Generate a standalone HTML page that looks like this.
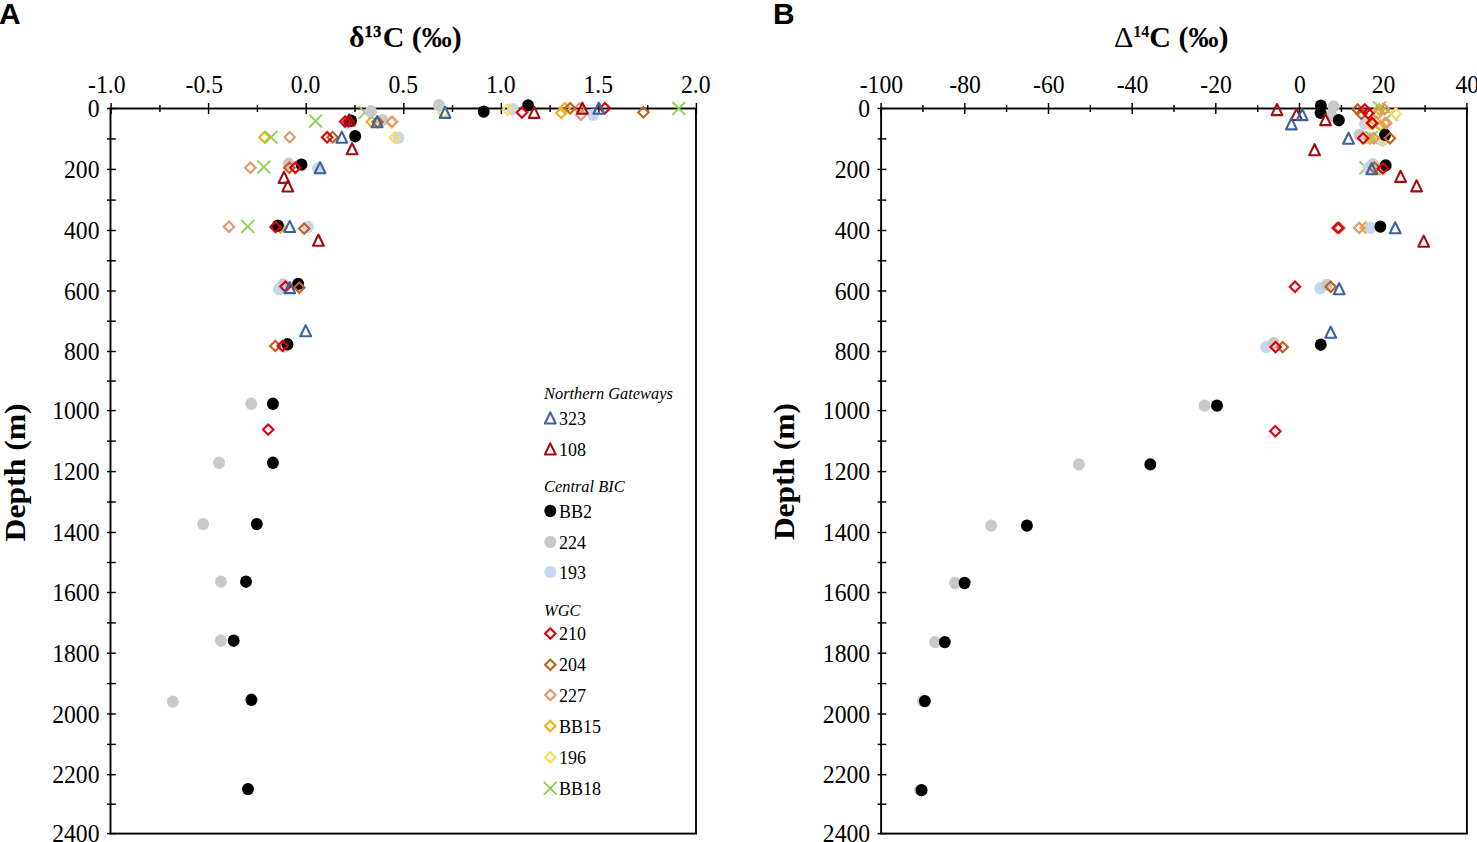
<!DOCTYPE html><html><head><meta charset="utf-8"><style>html,body{margin:0;padding:0;background:#fff;}svg{display:block}</style></head><body>
<svg width="1477" height="842" viewBox="0 0 1477 842">
<rect width="100%" height="100%" fill="#fff"/>
<rect x="110.5" y="108.5" width="585.5" height="725.1" fill="none" stroke="#000" stroke-width="1.9"/>
<line x1="111.1" y1="103.0" x2="111.1" y2="114.0" stroke="#000" stroke-width="1.45"/>
<line x1="208.6" y1="103.0" x2="208.6" y2="114.0" stroke="#000" stroke-width="1.45"/>
<line x1="306.2" y1="103.0" x2="306.2" y2="114.0" stroke="#000" stroke-width="1.45"/>
<line x1="403.8" y1="103.0" x2="403.8" y2="114.0" stroke="#000" stroke-width="1.45"/>
<line x1="501.3" y1="103.0" x2="501.3" y2="114.0" stroke="#000" stroke-width="1.45"/>
<line x1="598.9" y1="103.0" x2="598.9" y2="114.0" stroke="#000" stroke-width="1.45"/>
<line x1="696.4" y1="103.0" x2="696.4" y2="114.0" stroke="#000" stroke-width="1.45"/>
<line x1="159.9" y1="105.0" x2="159.9" y2="112.0" stroke="#000" stroke-width="1.45"/>
<line x1="257.4" y1="105.0" x2="257.4" y2="112.0" stroke="#000" stroke-width="1.45"/>
<line x1="355.0" y1="105.0" x2="355.0" y2="112.0" stroke="#000" stroke-width="1.45"/>
<line x1="452.5" y1="105.0" x2="452.5" y2="112.0" stroke="#000" stroke-width="1.45"/>
<line x1="550.1" y1="105.0" x2="550.1" y2="112.0" stroke="#000" stroke-width="1.45"/>
<line x1="647.7" y1="105.0" x2="647.7" y2="112.0" stroke="#000" stroke-width="1.45"/>
<line x1="107.0" y1="108.5" x2="115.8" y2="108.5" stroke="#000" stroke-width="1.45"/>
<line x1="107.0" y1="138.9" x2="115.8" y2="138.9" stroke="#000" stroke-width="1.45"/>
<line x1="107.0" y1="169.4" x2="115.8" y2="169.4" stroke="#000" stroke-width="1.45"/>
<line x1="107.0" y1="200.1" x2="115.8" y2="200.1" stroke="#000" stroke-width="1.45"/>
<line x1="107.0" y1="230.5" x2="115.8" y2="230.5" stroke="#000" stroke-width="1.45"/>
<line x1="107.0" y1="260.8" x2="115.8" y2="260.8" stroke="#000" stroke-width="1.45"/>
<line x1="107.0" y1="291.0" x2="115.8" y2="291.0" stroke="#000" stroke-width="1.45"/>
<line x1="107.0" y1="321.2" x2="115.8" y2="321.2" stroke="#000" stroke-width="1.45"/>
<line x1="107.0" y1="351.5" x2="115.8" y2="351.5" stroke="#000" stroke-width="1.45"/>
<line x1="107.0" y1="381.1" x2="115.8" y2="381.1" stroke="#000" stroke-width="1.45"/>
<line x1="107.0" y1="410.6" x2="115.8" y2="410.6" stroke="#000" stroke-width="1.45"/>
<line x1="107.0" y1="441.1" x2="115.8" y2="441.1" stroke="#000" stroke-width="1.45"/>
<line x1="107.0" y1="471.6" x2="115.8" y2="471.6" stroke="#000" stroke-width="1.45"/>
<line x1="107.0" y1="502.0" x2="115.8" y2="502.0" stroke="#000" stroke-width="1.45"/>
<line x1="107.0" y1="532.5" x2="115.8" y2="532.5" stroke="#000" stroke-width="1.45"/>
<line x1="107.0" y1="562.5" x2="115.8" y2="562.5" stroke="#000" stroke-width="1.45"/>
<line x1="107.0" y1="592.5" x2="115.8" y2="592.5" stroke="#000" stroke-width="1.45"/>
<line x1="107.0" y1="622.9" x2="115.8" y2="622.9" stroke="#000" stroke-width="1.45"/>
<line x1="107.0" y1="653.2" x2="115.8" y2="653.2" stroke="#000" stroke-width="1.45"/>
<line x1="107.0" y1="683.6" x2="115.8" y2="683.6" stroke="#000" stroke-width="1.45"/>
<line x1="107.0" y1="714.0" x2="115.8" y2="714.0" stroke="#000" stroke-width="1.45"/>
<line x1="107.0" y1="744.4" x2="115.8" y2="744.4" stroke="#000" stroke-width="1.45"/>
<line x1="107.0" y1="774.7" x2="115.8" y2="774.7" stroke="#000" stroke-width="1.45"/>
<line x1="107.0" y1="804.2" x2="115.8" y2="804.2" stroke="#000" stroke-width="1.45"/>
<line x1="107.0" y1="833.6" x2="115.8" y2="833.6" stroke="#000" stroke-width="1.45"/>
<text transform="translate(106.8,93) scale(0.91,1)" font-family="Liberation Serif" font-size="26" text-anchor="middle">-1.0</text>
<text transform="translate(204.3,93) scale(0.91,1)" font-family="Liberation Serif" font-size="26" text-anchor="middle">-0.5</text>
<text transform="translate(305.6,93) scale(0.91,1)" font-family="Liberation Serif" font-size="26" text-anchor="middle">0.0</text>
<text transform="translate(403.2,93) scale(0.91,1)" font-family="Liberation Serif" font-size="26" text-anchor="middle">0.5</text>
<text transform="translate(500.7,93) scale(0.91,1)" font-family="Liberation Serif" font-size="26" text-anchor="middle">1.0</text>
<text transform="translate(598.3,93) scale(0.91,1)" font-family="Liberation Serif" font-size="26" text-anchor="middle">1.5</text>
<text transform="translate(695.8,93) scale(0.91,1)" font-family="Liberation Serif" font-size="26" text-anchor="middle">2.0</text>
<text transform="translate(99.5,117.1) scale(0.91,1)" font-family="Liberation Serif" font-size="26" text-anchor="end">0</text>
<text transform="translate(99.5,178.0) scale(0.91,1)" font-family="Liberation Serif" font-size="26" text-anchor="end">200</text>
<text transform="translate(99.5,239.1) scale(0.91,1)" font-family="Liberation Serif" font-size="26" text-anchor="end">400</text>
<text transform="translate(99.5,299.6) scale(0.91,1)" font-family="Liberation Serif" font-size="26" text-anchor="end">600</text>
<text transform="translate(99.5,360.1) scale(0.91,1)" font-family="Liberation Serif" font-size="26" text-anchor="end">800</text>
<text transform="translate(99.5,419.2) scale(0.91,1)" font-family="Liberation Serif" font-size="26" text-anchor="end">1000</text>
<text transform="translate(99.5,480.2) scale(0.91,1)" font-family="Liberation Serif" font-size="26" text-anchor="end">1200</text>
<text transform="translate(99.5,541.1) scale(0.91,1)" font-family="Liberation Serif" font-size="26" text-anchor="end">1400</text>
<text transform="translate(99.5,601.1) scale(0.91,1)" font-family="Liberation Serif" font-size="26" text-anchor="end">1600</text>
<text transform="translate(99.5,661.9) scale(0.91,1)" font-family="Liberation Serif" font-size="26" text-anchor="end">1800</text>
<text transform="translate(99.5,722.6) scale(0.91,1)" font-family="Liberation Serif" font-size="26" text-anchor="end">2000</text>
<text transform="translate(99.5,783.3) scale(0.91,1)" font-family="Liberation Serif" font-size="26" text-anchor="end">2200</text>
<text transform="translate(99.5,842.2) scale(0.91,1)" font-family="Liberation Serif" font-size="26" text-anchor="end">2400</text>
<rect x="881.1" y="108.5" width="585.8000000000001" height="725.1" fill="none" stroke="#000" stroke-width="1.9"/>
<line x1="881.1" y1="103.0" x2="881.1" y2="114.0" stroke="#000" stroke-width="1.45"/>
<line x1="964.8" y1="103.0" x2="964.8" y2="114.0" stroke="#000" stroke-width="1.45"/>
<line x1="1048.5" y1="103.0" x2="1048.5" y2="114.0" stroke="#000" stroke-width="1.45"/>
<line x1="1132.2" y1="103.0" x2="1132.2" y2="114.0" stroke="#000" stroke-width="1.45"/>
<line x1="1215.8" y1="103.0" x2="1215.8" y2="114.0" stroke="#000" stroke-width="1.45"/>
<line x1="1299.5" y1="103.0" x2="1299.5" y2="114.0" stroke="#000" stroke-width="1.45"/>
<line x1="1383.2" y1="103.0" x2="1383.2" y2="114.0" stroke="#000" stroke-width="1.45"/>
<line x1="1466.9" y1="103.0" x2="1466.9" y2="114.0" stroke="#000" stroke-width="1.45"/>
<line x1="922.9" y1="105.0" x2="922.9" y2="112.0" stroke="#000" stroke-width="1.45"/>
<line x1="1006.6" y1="105.0" x2="1006.6" y2="112.0" stroke="#000" stroke-width="1.45"/>
<line x1="1090.3" y1="105.0" x2="1090.3" y2="112.0" stroke="#000" stroke-width="1.45"/>
<line x1="1174.0" y1="105.0" x2="1174.0" y2="112.0" stroke="#000" stroke-width="1.45"/>
<line x1="1257.7" y1="105.0" x2="1257.7" y2="112.0" stroke="#000" stroke-width="1.45"/>
<line x1="1341.4" y1="105.0" x2="1341.4" y2="112.0" stroke="#000" stroke-width="1.45"/>
<line x1="1425.1" y1="105.0" x2="1425.1" y2="112.0" stroke="#000" stroke-width="1.45"/>
<line x1="877.6" y1="108.5" x2="886.4" y2="108.5" stroke="#000" stroke-width="1.45"/>
<line x1="877.6" y1="138.9" x2="886.4" y2="138.9" stroke="#000" stroke-width="1.45"/>
<line x1="877.6" y1="169.4" x2="886.4" y2="169.4" stroke="#000" stroke-width="1.45"/>
<line x1="877.6" y1="200.1" x2="886.4" y2="200.1" stroke="#000" stroke-width="1.45"/>
<line x1="877.6" y1="230.5" x2="886.4" y2="230.5" stroke="#000" stroke-width="1.45"/>
<line x1="877.6" y1="260.8" x2="886.4" y2="260.8" stroke="#000" stroke-width="1.45"/>
<line x1="877.6" y1="291.0" x2="886.4" y2="291.0" stroke="#000" stroke-width="1.45"/>
<line x1="877.6" y1="321.2" x2="886.4" y2="321.2" stroke="#000" stroke-width="1.45"/>
<line x1="877.6" y1="351.5" x2="886.4" y2="351.5" stroke="#000" stroke-width="1.45"/>
<line x1="877.6" y1="381.1" x2="886.4" y2="381.1" stroke="#000" stroke-width="1.45"/>
<line x1="877.6" y1="410.6" x2="886.4" y2="410.6" stroke="#000" stroke-width="1.45"/>
<line x1="877.6" y1="441.1" x2="886.4" y2="441.1" stroke="#000" stroke-width="1.45"/>
<line x1="877.6" y1="471.6" x2="886.4" y2="471.6" stroke="#000" stroke-width="1.45"/>
<line x1="877.6" y1="502.0" x2="886.4" y2="502.0" stroke="#000" stroke-width="1.45"/>
<line x1="877.6" y1="532.5" x2="886.4" y2="532.5" stroke="#000" stroke-width="1.45"/>
<line x1="877.6" y1="562.5" x2="886.4" y2="562.5" stroke="#000" stroke-width="1.45"/>
<line x1="877.6" y1="592.5" x2="886.4" y2="592.5" stroke="#000" stroke-width="1.45"/>
<line x1="877.6" y1="622.9" x2="886.4" y2="622.9" stroke="#000" stroke-width="1.45"/>
<line x1="877.6" y1="653.2" x2="886.4" y2="653.2" stroke="#000" stroke-width="1.45"/>
<line x1="877.6" y1="683.6" x2="886.4" y2="683.6" stroke="#000" stroke-width="1.45"/>
<line x1="877.6" y1="714.0" x2="886.4" y2="714.0" stroke="#000" stroke-width="1.45"/>
<line x1="877.6" y1="744.4" x2="886.4" y2="744.4" stroke="#000" stroke-width="1.45"/>
<line x1="877.6" y1="774.7" x2="886.4" y2="774.7" stroke="#000" stroke-width="1.45"/>
<line x1="877.6" y1="804.2" x2="886.4" y2="804.2" stroke="#000" stroke-width="1.45"/>
<line x1="877.6" y1="833.6" x2="886.4" y2="833.6" stroke="#000" stroke-width="1.45"/>
<text transform="translate(881.4,93) scale(0.91,1)" font-family="Liberation Serif" font-size="26" text-anchor="middle">-100</text>
<text transform="translate(965.1,93) scale(0.91,1)" font-family="Liberation Serif" font-size="26" text-anchor="middle">-80</text>
<text transform="translate(1048.8,93) scale(0.91,1)" font-family="Liberation Serif" font-size="26" text-anchor="middle">-60</text>
<text transform="translate(1132.5,93) scale(0.91,1)" font-family="Liberation Serif" font-size="26" text-anchor="middle">-40</text>
<text transform="translate(1216.1,93) scale(0.91,1)" font-family="Liberation Serif" font-size="26" text-anchor="middle">-20</text>
<text transform="translate(1299.8,93) scale(0.91,1)" font-family="Liberation Serif" font-size="26" text-anchor="middle">0</text>
<text transform="translate(1383.5,93) scale(0.91,1)" font-family="Liberation Serif" font-size="26" text-anchor="middle">20</text>
<text transform="translate(1467.2,93) scale(0.91,1)" font-family="Liberation Serif" font-size="26" text-anchor="middle">40</text>
<text transform="translate(870.1,117.1) scale(0.91,1)" font-family="Liberation Serif" font-size="26" text-anchor="end">0</text>
<text transform="translate(870.1,178.0) scale(0.91,1)" font-family="Liberation Serif" font-size="26" text-anchor="end">200</text>
<text transform="translate(870.1,239.1) scale(0.91,1)" font-family="Liberation Serif" font-size="26" text-anchor="end">400</text>
<text transform="translate(870.1,299.6) scale(0.91,1)" font-family="Liberation Serif" font-size="26" text-anchor="end">600</text>
<text transform="translate(870.1,360.1) scale(0.91,1)" font-family="Liberation Serif" font-size="26" text-anchor="end">800</text>
<text transform="translate(870.1,419.2) scale(0.91,1)" font-family="Liberation Serif" font-size="26" text-anchor="end">1000</text>
<text transform="translate(870.1,480.2) scale(0.91,1)" font-family="Liberation Serif" font-size="26" text-anchor="end">1200</text>
<text transform="translate(870.1,541.1) scale(0.91,1)" font-family="Liberation Serif" font-size="26" text-anchor="end">1400</text>
<text transform="translate(870.1,601.1) scale(0.91,1)" font-family="Liberation Serif" font-size="26" text-anchor="end">1600</text>
<text transform="translate(870.1,661.9) scale(0.91,1)" font-family="Liberation Serif" font-size="26" text-anchor="end">1800</text>
<text transform="translate(870.1,722.6) scale(0.91,1)" font-family="Liberation Serif" font-size="26" text-anchor="end">2000</text>
<text transform="translate(870.1,783.3) scale(0.91,1)" font-family="Liberation Serif" font-size="26" text-anchor="end">2200</text>
<text transform="translate(870.1,842.2) scale(0.91,1)" font-family="Liberation Serif" font-size="26" text-anchor="end">2400</text>
<text x="-1" y="24" font-family="Liberation Sans" font-weight="bold" font-size="30">A</text>
<text x="773" y="24.3" font-family="Liberation Sans" font-weight="bold" font-size="30">B</text>
<text x="349" y="47" font-family="Liberation Serif" font-weight="bold" font-size="30">δ<tspan font-size="16" dy="-10.3" stroke="#000" stroke-width="0.45" letter-spacing="0.6">13</tspan><tspan dy="10.3" dx="0.9">C (‰)</tspan></text>
<text x="1114" y="47" font-family="Liberation Serif" font-size="30"><tspan>Δ</tspan><tspan font-weight="bold" font-size="16" dy="-10.3">14</tspan><tspan font-weight="bold" dy="10.3">C (‰)</tspan></text>
<text transform="translate(25,472.4) rotate(-90)" font-family="Liberation Serif" font-weight="bold" font-size="29" text-anchor="middle" textLength="138" lengthAdjust="spacingAndGlyphs">Depth (m)</text>
<text transform="translate(793.6,471.6) rotate(-90)" font-family="Liberation Serif" font-weight="bold" font-size="29" text-anchor="middle" textLength="137" lengthAdjust="spacingAndGlyphs">Depth (m)</text>
<text x="544" y="398.5" font-family="Liberation Serif" font-style="italic" font-size="16.4">Northern Gateways</text>
<path d="M550.3 412.4L555.7 423.5L544.9 423.5Z" fill="none" stroke="#3A62A2" stroke-width="2.1" stroke-linejoin="round"/>
<text x="559" y="424.5" font-family="Liberation Serif" font-size="18">323</text>
<path d="M550.3 443.4L555.7 454.5L544.9 454.5Z" fill="none" stroke="#A00C12" stroke-width="2.1" stroke-linejoin="round"/>
<text x="559" y="455.5" font-family="Liberation Serif" font-size="18">108</text>
<text x="544" y="491.5" font-family="Liberation Serif" font-style="italic" font-size="16.4">Central BIC</text>
<ellipse cx="550.3" cy="511.0" rx="5.95" ry="6.2" fill="#000000"/>
<text x="559" y="517.5" font-family="Liberation Serif" font-size="18">BB2</text>
<ellipse cx="550.3" cy="542.0" rx="5.95" ry="6.2" fill="#C9C9C9"/>
<text x="559" y="548.5" font-family="Liberation Serif" font-size="18">224</text>
<ellipse cx="550.3" cy="572.0" rx="5.95" ry="6.2" fill="#C5D7EE"/>
<text x="559" y="578.5" font-family="Liberation Serif" font-size="18">193</text>
<text x="544" y="616" font-family="Liberation Serif" font-style="italic" font-size="16.4">WGC</text>
<path d="M550.3 628.3L555.5 633.5L550.3 638.7L545.1 633.5Z" fill="none" stroke="#DC0010" stroke-width="2.1"/>
<text x="559" y="640.0" font-family="Liberation Serif" font-size="18">210</text>
<path d="M550.3 659.6L555.5 664.8L550.3 670.0L545.1 664.8Z" fill="none" stroke="#C4601C" stroke-width="2.1"/>
<text x="559" y="671.3" font-family="Liberation Serif" font-size="18">204</text>
<path d="M550.3 689.8L555.5 695.0L550.3 700.2L545.1 695.0Z" fill="none" stroke="#E5966C" stroke-width="2.1"/>
<text x="559" y="701.5" font-family="Liberation Serif" font-size="18">227</text>
<path d="M550.3 720.8L555.5 726.0L550.3 731.2L545.1 726.0Z" fill="none" stroke="#EDB120" stroke-width="2.1"/>
<text x="559" y="732.5" font-family="Liberation Serif" font-size="18">BB15</text>
<path d="M550.3 752.1L555.5 757.3L550.3 762.5L545.1 757.3Z" fill="none" stroke="#FADC5A" stroke-width="2.1"/>
<text x="559" y="763.8" font-family="Liberation Serif" font-size="18">196</text>
<path d="M544.4 782.3L556.2 794.1M556.2 782.3L544.4 794.1" stroke="#8ED04E" stroke-width="1.9" stroke-linecap="round"/>
<text x="559" y="794.7" font-family="Liberation Serif" font-size="18">BB18</text>
<path d="M561.3 107.7L566.5 112.9L561.3 118.1L556.1 112.9Z" fill="none" stroke="#EDB120" stroke-width="2.1"/>
<path d="M564.8 103.1L570.0 108.3L564.8 113.5L559.6 108.3Z" fill="none" stroke="#EDB120" stroke-width="2.1"/>
<path d="M371.6 116.5L376.8 121.7L371.6 126.9L366.4 121.7Z" fill="none" stroke="#EDB120" stroke-width="2.1"/>
<path d="M264.4 132.0L269.6 137.2L264.4 142.4L259.2 137.2Z" fill="none" stroke="#EDB120" stroke-width="2.1"/>
<path d="M280.7 222.3L285.9 227.5L280.7 232.7L275.5 227.5Z" fill="none" stroke="#EDB120" stroke-width="2.1"/>
<path d="M1379.1 104.2L1384.3 109.4L1379.1 114.6L1373.9 109.4Z" fill="none" stroke="#EDB120" stroke-width="2.1"/>
<path d="M1380.7 120.2L1385.9 125.4L1380.7 130.6L1375.5 125.4Z" fill="none" stroke="#EDB120" stroke-width="2.1"/>
<path d="M1384.9 118.1L1390.1 123.3L1384.9 128.5L1379.7 123.3Z" fill="none" stroke="#EDB120" stroke-width="2.1"/>
<path d="M1370.0 133.3L1375.2 138.5L1370.0 143.7L1364.8 138.5Z" fill="none" stroke="#EDB120" stroke-width="2.1"/>
<path d="M1379.2 163.8L1384.4 169.0L1379.2 174.2L1374.0 169.0Z" fill="none" stroke="#EDB120" stroke-width="2.1"/>
<path d="M1365.5 222.6L1370.7 227.8L1365.5 233.0L1360.3 227.8Z" fill="none" stroke="#EDB120" stroke-width="2.1"/>
<path d="M672.9 102.5L684.7 114.3M684.7 102.5L672.9 114.3" stroke="#8ED04E" stroke-width="1.9" stroke-linecap="round"/>
<path d="M309.7 115.2L321.5 127.0M321.5 115.2L309.7 127.0" stroke="#8ED04E" stroke-width="1.9" stroke-linecap="round"/>
<path d="M359.1 106.6L370.9 118.4M370.9 106.6L359.1 118.4" stroke="#8ED04E" stroke-width="1.9" stroke-linecap="round"/>
<path d="M265.2 131.3L277.0 143.1M277.0 131.3L265.2 143.1" stroke="#8ED04E" stroke-width="1.9" stroke-linecap="round"/>
<path d="M257.9 161.1L269.7 172.9M269.7 161.1L257.9 172.9" stroke="#8ED04E" stroke-width="1.9" stroke-linecap="round"/>
<path d="M241.9 220.6L253.7 232.4M253.7 220.6L241.9 232.4" stroke="#8ED04E" stroke-width="1.9" stroke-linecap="round"/>
<path d="M1365.4 116.4L1377.2 128.2M1377.2 116.4L1365.4 128.2" stroke="#8ED04E" stroke-width="1.9" stroke-linecap="round"/>
<path d="M1373.7 102.0L1385.5 113.8M1385.5 102.0L1373.7 113.8" stroke="#8ED04E" stroke-width="1.9" stroke-linecap="round"/>
<path d="M1385.1 108.4L1396.9 120.2M1396.9 108.4L1385.1 120.2" stroke="#8ED04E" stroke-width="1.9" stroke-linecap="round"/>
<path d="M1365.3 131.6L1377.1 143.4M1377.1 131.6L1365.3 143.4" stroke="#8ED04E" stroke-width="1.9" stroke-linecap="round"/>
<path d="M1360.1 161.9L1371.9 173.7M1371.9 161.9L1360.1 173.7" stroke="#8ED04E" stroke-width="1.9" stroke-linecap="round"/>
<ellipse cx="512.9" cy="109.2" rx="5.95" ry="6.2" fill="#C5D7EE"/>
<ellipse cx="593.2" cy="114.8" rx="5.95" ry="6.2" fill="#C5D7EE"/>
<ellipse cx="347.5" cy="123.3" rx="5.95" ry="6.2" fill="#C5D7EE"/>
<ellipse cx="398.4" cy="137.8" rx="5.95" ry="6.2" fill="#C5D7EE"/>
<ellipse cx="318.0" cy="168.3" rx="5.95" ry="6.2" fill="#C5D7EE"/>
<ellipse cx="307.8" cy="226.8" rx="5.95" ry="6.2" fill="#C5D7EE"/>
<ellipse cx="279.0" cy="289.2" rx="5.95" ry="6.2" fill="#C5D7EE"/>
<ellipse cx="284.3" cy="346.5" rx="5.95" ry="6.2" fill="#C5D7EE"/>
<ellipse cx="1365.0" cy="123.7" rx="5.95" ry="6.2" fill="#C5D7EE"/>
<ellipse cx="1382.0" cy="140.4" rx="5.95" ry="6.2" fill="#C5D7EE"/>
<ellipse cx="1368.5" cy="168.0" rx="5.95" ry="6.2" fill="#C5D7EE"/>
<ellipse cx="1370.3" cy="227.8" rx="5.95" ry="6.2" fill="#C5D7EE"/>
<ellipse cx="1320.2" cy="288.3" rx="5.95" ry="6.2" fill="#C5D7EE"/>
<ellipse cx="1266.1" cy="347.1" rx="5.95" ry="6.2" fill="#C5D7EE"/>
<path d="M443.6 107.5L448.8 112.7L443.6 117.9L438.4 112.7Z" fill="none" stroke="#FADC5A" stroke-width="2.1"/>
<path d="M507.7 104.5L512.9 109.7L507.7 114.9L502.5 109.7Z" fill="none" stroke="#FADC5A" stroke-width="2.1"/>
<path d="M391.2 117.1L396.4 122.3L391.2 127.5L386.0 122.3Z" fill="none" stroke="#FADC5A" stroke-width="2.1"/>
<path d="M394.8 132.6L400.0 137.8L394.8 143.0L389.6 137.8Z" fill="none" stroke="#FADC5A" stroke-width="2.1"/>
<path d="M1370.0 118.8L1375.2 124.0L1370.0 129.2L1364.8 124.0Z" fill="none" stroke="#FADC5A" stroke-width="2.1"/>
<path d="M1395.6 108.6L1400.8 113.8L1395.6 119.0L1390.4 113.8Z" fill="none" stroke="#FADC5A" stroke-width="2.1"/>
<path d="M1383.2 134.8L1388.4 140.0L1383.2 145.2L1378.0 140.0Z" fill="none" stroke="#FADC5A" stroke-width="2.1"/>
<ellipse cx="438.9" cy="105.2" rx="5.95" ry="6.2" fill="#C9C9C9"/>
<ellipse cx="371.0" cy="111.3" rx="5.95" ry="6.2" fill="#C9C9C9"/>
<ellipse cx="382.3" cy="120.2" rx="5.95" ry="6.2" fill="#C9C9C9"/>
<ellipse cx="288.7" cy="163.8" rx="5.95" ry="6.2" fill="#C9C9C9"/>
<ellipse cx="283.3" cy="284.4" rx="5.95" ry="6.2" fill="#C9C9C9"/>
<ellipse cx="251.3" cy="403.8" rx="5.95" ry="6.2" fill="#C9C9C9"/>
<ellipse cx="219.1" cy="462.8" rx="5.95" ry="6.2" fill="#C9C9C9"/>
<ellipse cx="203.2" cy="524.1" rx="5.95" ry="6.2" fill="#C9C9C9"/>
<ellipse cx="220.9" cy="581.7" rx="5.95" ry="6.2" fill="#C9C9C9"/>
<ellipse cx="220.9" cy="640.7" rx="5.95" ry="6.2" fill="#C9C9C9"/>
<ellipse cx="172.8" cy="701.6" rx="5.95" ry="6.2" fill="#C9C9C9"/>
<ellipse cx="1333.6" cy="106.4" rx="5.95" ry="6.2" fill="#C9C9C9"/>
<ellipse cx="1331.6" cy="116.0" rx="5.95" ry="6.2" fill="#C9C9C9"/>
<ellipse cx="1359.5" cy="135.0" rx="5.95" ry="6.2" fill="#C9C9C9"/>
<ellipse cx="1372.7" cy="164.3" rx="5.95" ry="6.2" fill="#C9C9C9"/>
<ellipse cx="1326.9" cy="284.9" rx="5.95" ry="6.2" fill="#C9C9C9"/>
<ellipse cx="1273.7" cy="343.3" rx="5.95" ry="6.2" fill="#C9C9C9"/>
<ellipse cx="1204.5" cy="405.6" rx="5.95" ry="6.2" fill="#C9C9C9"/>
<ellipse cx="1078.9" cy="464.4" rx="5.95" ry="6.2" fill="#C9C9C9"/>
<ellipse cx="991.2" cy="525.6" rx="5.95" ry="6.2" fill="#C9C9C9"/>
<ellipse cx="955.1" cy="583.0" rx="5.95" ry="6.2" fill="#C9C9C9"/>
<ellipse cx="935.1" cy="642.1" rx="5.95" ry="6.2" fill="#C9C9C9"/>
<ellipse cx="923.0" cy="701.1" rx="5.95" ry="6.2" fill="#C9C9C9"/>
<ellipse cx="920.0" cy="790.2" rx="5.95" ry="6.2" fill="#C9C9C9"/>
<ellipse cx="483.7" cy="111.6" rx="5.95" ry="6.2" fill="#000000"/>
<ellipse cx="528.1" cy="105.4" rx="5.95" ry="6.2" fill="#000000"/>
<ellipse cx="351.1" cy="120.7" rx="5.95" ry="6.2" fill="#000000"/>
<ellipse cx="355.2" cy="136.2" rx="5.95" ry="6.2" fill="#000000"/>
<ellipse cx="301.5" cy="164.6" rx="5.95" ry="6.2" fill="#000000"/>
<ellipse cx="277.9" cy="225.6" rx="5.95" ry="6.2" fill="#000000"/>
<ellipse cx="298.2" cy="283.9" rx="5.95" ry="6.2" fill="#000000"/>
<ellipse cx="287.5" cy="344.3" rx="5.95" ry="6.2" fill="#000000"/>
<ellipse cx="272.9" cy="403.8" rx="5.95" ry="6.2" fill="#000000"/>
<ellipse cx="272.9" cy="462.8" rx="5.95" ry="6.2" fill="#000000"/>
<ellipse cx="256.8" cy="524.1" rx="5.95" ry="6.2" fill="#000000"/>
<ellipse cx="246.0" cy="581.7" rx="5.95" ry="6.2" fill="#000000"/>
<ellipse cx="233.7" cy="640.7" rx="5.95" ry="6.2" fill="#000000"/>
<ellipse cx="251.4" cy="699.8" rx="5.95" ry="6.2" fill="#000000"/>
<ellipse cx="248.0" cy="789.1" rx="5.95" ry="6.2" fill="#000000"/>
<ellipse cx="1320.9" cy="105.6" rx="5.95" ry="6.2" fill="#000000"/>
<ellipse cx="1320.6" cy="112.9" rx="5.95" ry="6.2" fill="#000000"/>
<ellipse cx="1338.8" cy="120.2" rx="5.95" ry="6.2" fill="#000000"/>
<ellipse cx="1385.1" cy="134.8" rx="5.95" ry="6.2" fill="#000000"/>
<ellipse cx="1385.7" cy="165.4" rx="5.95" ry="6.2" fill="#000000"/>
<ellipse cx="1380.4" cy="226.6" rx="5.95" ry="6.2" fill="#000000"/>
<ellipse cx="1320.8" cy="344.7" rx="5.95" ry="6.2" fill="#000000"/>
<ellipse cx="1217.0" cy="405.6" rx="5.95" ry="6.2" fill="#000000"/>
<ellipse cx="1150.3" cy="464.4" rx="5.95" ry="6.2" fill="#000000"/>
<ellipse cx="1026.9" cy="525.6" rx="5.95" ry="6.2" fill="#000000"/>
<ellipse cx="964.6" cy="583.0" rx="5.95" ry="6.2" fill="#000000"/>
<ellipse cx="944.8" cy="642.1" rx="5.95" ry="6.2" fill="#000000"/>
<ellipse cx="924.9" cy="701.1" rx="5.95" ry="6.2" fill="#000000"/>
<ellipse cx="921.6" cy="790.2" rx="5.95" ry="6.2" fill="#000000"/>
<path d="M581.0 109.6L586.2 114.8L581.0 120.0L575.8 114.8Z" fill="none" stroke="#E5966C" stroke-width="2.1"/>
<path d="M579.5 103.3L584.7 108.5L579.5 113.7L574.3 108.5Z" fill="none" stroke="#E5966C" stroke-width="2.1"/>
<path d="M392.1 116.5L397.3 121.7L392.1 126.9L386.9 121.7Z" fill="none" stroke="#E5966C" stroke-width="2.1"/>
<path d="M289.7 132.0L294.9 137.2L289.7 142.4L284.5 137.2Z" fill="none" stroke="#E5966C" stroke-width="2.1"/>
<path d="M250.4 162.5L255.6 167.7L250.4 172.9L245.2 167.7Z" fill="none" stroke="#E5966C" stroke-width="2.1"/>
<path d="M229.0 221.5L234.2 226.7L229.0 231.9L223.8 226.7Z" fill="none" stroke="#E5966C" stroke-width="2.1"/>
<path d="M1377.7 108.6L1382.9 113.8L1377.7 119.0L1372.5 113.8Z" fill="none" stroke="#E5966C" stroke-width="2.1"/>
<path d="M1384.4 104.2L1389.6 109.4L1384.4 114.6L1379.2 109.4Z" fill="none" stroke="#E5966C" stroke-width="2.1"/>
<path d="M1386.2 118.1L1391.4 123.3L1386.2 128.5L1381.0 123.3Z" fill="none" stroke="#E5966C" stroke-width="2.1"/>
<path d="M1373.7 133.1L1378.9 138.3L1373.7 143.5L1368.5 138.3Z" fill="none" stroke="#E5966C" stroke-width="2.1"/>
<path d="M1359.2 222.7L1364.4 227.9L1359.2 233.1L1354.0 227.9Z" fill="none" stroke="#E5966C" stroke-width="2.1"/>
<path d="M570.2 103.1L575.4 108.3L570.2 113.5L565.0 108.3Z" fill="none" stroke="#C4601C" stroke-width="2.1"/>
<path d="M643.4 107.0L648.6 112.2L643.4 117.4L638.2 112.2Z" fill="none" stroke="#C4601C" stroke-width="2.1"/>
<path d="M377.5 116.8L382.7 122.0L377.5 127.2L372.3 122.0Z" fill="none" stroke="#C4601C" stroke-width="2.1"/>
<path d="M332.6 132.0L337.8 137.2L332.6 142.4L327.4 137.2Z" fill="none" stroke="#C4601C" stroke-width="2.1"/>
<path d="M289.4 162.5L294.6 167.7L289.4 172.9L284.2 167.7Z" fill="none" stroke="#C4601C" stroke-width="2.1"/>
<path d="M304.2 223.4L309.4 228.6L304.2 233.8L299.0 228.6Z" fill="none" stroke="#C4601C" stroke-width="2.1"/>
<path d="M299.3 282.4L304.5 287.6L299.3 292.8L294.1 287.6Z" fill="none" stroke="#C4601C" stroke-width="2.1"/>
<path d="M275.3 340.7L280.5 345.9L275.3 351.1L270.1 345.9Z" fill="none" stroke="#C4601C" stroke-width="2.1"/>
<path d="M1357.6 104.2L1362.8 109.4L1357.6 114.6L1352.4 109.4Z" fill="none" stroke="#C4601C" stroke-width="2.1"/>
<path d="M1361.4 108.6L1366.6 113.8L1361.4 119.0L1356.2 113.8Z" fill="none" stroke="#C4601C" stroke-width="2.1"/>
<path d="M1372.5 118.3L1377.7 123.5L1372.5 128.7L1367.3 123.5Z" fill="none" stroke="#C4601C" stroke-width="2.1"/>
<path d="M1389.9 133.1L1395.1 138.3L1389.9 143.5L1384.7 138.3Z" fill="none" stroke="#C4601C" stroke-width="2.1"/>
<path d="M1374.4 162.6L1379.6 167.8L1374.4 173.0L1369.2 167.8Z" fill="none" stroke="#C4601C" stroke-width="2.1"/>
<path d="M1339.2 222.7L1344.4 227.9L1339.2 233.1L1334.0 227.9Z" fill="none" stroke="#C4601C" stroke-width="2.1"/>
<path d="M1330.7 281.6L1335.9 286.8L1330.7 292.0L1325.5 286.8Z" fill="none" stroke="#C4601C" stroke-width="2.1"/>
<path d="M1282.7 341.9L1287.9 347.1L1282.7 352.3L1277.5 347.1Z" fill="none" stroke="#C4601C" stroke-width="2.1"/>
<path d="M521.9 107.3L527.1 112.5L521.9 117.7L516.7 112.5Z" fill="none" stroke="#DC0010" stroke-width="2.1"/>
<path d="M604.9 103.1L610.1 108.3L604.9 113.5L599.7 108.3Z" fill="none" stroke="#DC0010" stroke-width="2.1"/>
<path d="M345.1 116.4L350.3 121.6L345.1 126.8L339.9 121.6Z" fill="none" stroke="#DC0010" stroke-width="2.1"/>
<path d="M348.7 116.2L353.9 121.4L348.7 126.6L343.5 121.4Z" fill="none" stroke="#DC0010" stroke-width="2.1"/>
<path d="M327.1 132.0L332.3 137.2L327.1 142.4L321.9 137.2Z" fill="none" stroke="#DC0010" stroke-width="2.1"/>
<path d="M295.4 162.5L300.6 167.7L295.4 172.9L290.2 167.7Z" fill="none" stroke="#DC0010" stroke-width="2.1"/>
<path d="M275.5 221.8L280.7 227.0L275.5 232.2L270.3 227.0Z" fill="none" stroke="#DC0010" stroke-width="2.1"/>
<path d="M285.4 281.4L290.6 286.6L285.4 291.8L280.2 286.6Z" fill="none" stroke="#DC0010" stroke-width="2.1"/>
<path d="M282.7 340.7L287.9 345.9L282.7 351.1L277.5 345.9Z" fill="none" stroke="#DC0010" stroke-width="2.1"/>
<path d="M268.2 424.4L273.4 429.6L268.2 434.8L263.0 429.6Z" fill="none" stroke="#DC0010" stroke-width="2.1"/>
<path d="M1364.8 104.2L1370.0 109.4L1364.8 114.6L1359.6 109.4Z" fill="none" stroke="#DC0010" stroke-width="2.1"/>
<path d="M1368.2 108.0L1373.4 113.2L1368.2 118.4L1363.0 113.2Z" fill="none" stroke="#DC0010" stroke-width="2.1"/>
<path d="M1372.0 117.7L1377.2 122.9L1372.0 128.1L1366.8 122.9Z" fill="none" stroke="#DC0010" stroke-width="2.1"/>
<path d="M1363.1 133.1L1368.3 138.3L1363.1 143.5L1357.9 138.3Z" fill="none" stroke="#DC0010" stroke-width="2.1"/>
<path d="M1382.8 163.2L1388.0 168.4L1382.8 173.6L1377.6 168.4Z" fill="none" stroke="#DC0010" stroke-width="2.1"/>
<path d="M1337.7 222.7L1342.9 227.9L1337.7 233.1L1332.5 227.9Z" fill="none" stroke="#DC0010" stroke-width="2.1"/>
<path d="M1295.0 281.6L1300.2 286.8L1295.0 292.0L1289.8 286.8Z" fill="none" stroke="#DC0010" stroke-width="2.1"/>
<path d="M1275.6 341.9L1280.8 347.1L1275.6 352.3L1270.4 347.1Z" fill="none" stroke="#DC0010" stroke-width="2.1"/>
<path d="M1275.3 426.0L1280.5 431.2L1275.3 436.4L1270.1 431.2Z" fill="none" stroke="#DC0010" stroke-width="2.1"/>
<path d="M534.2 106.8L539.6 117.9L528.8 117.9Z" fill="none" stroke="#A00C12" stroke-width="2.1" stroke-linejoin="round"/>
<path d="M582.4 102.7L587.8 113.8L577.0 113.8Z" fill="none" stroke="#A00C12" stroke-width="2.1" stroke-linejoin="round"/>
<path d="M349.2 114.4L354.6 125.5L343.8 125.5Z" fill="none" stroke="#A00C12" stroke-width="2.1" stroke-linejoin="round"/>
<path d="M352.1 143.2L357.5 154.3L346.7 154.3Z" fill="none" stroke="#A00C12" stroke-width="2.1" stroke-linejoin="round"/>
<path d="M284.0 171.8L289.4 182.9L278.6 182.9Z" fill="none" stroke="#A00C12" stroke-width="2.1" stroke-linejoin="round"/>
<path d="M287.8 180.4L293.2 191.5L282.4 191.5Z" fill="none" stroke="#A00C12" stroke-width="2.1" stroke-linejoin="round"/>
<path d="M318.4 234.7L323.8 245.8L313.0 245.8Z" fill="none" stroke="#A00C12" stroke-width="2.1" stroke-linejoin="round"/>
<path d="M1277.0 104.0L1282.4 115.1L1271.6 115.1Z" fill="none" stroke="#A00C12" stroke-width="2.1" stroke-linejoin="round"/>
<path d="M1296.5 108.9L1301.9 120.0L1291.1 120.0Z" fill="none" stroke="#A00C12" stroke-width="2.1" stroke-linejoin="round"/>
<path d="M1325.5 114.0L1330.9 125.1L1320.1 125.1Z" fill="none" stroke="#A00C12" stroke-width="2.1" stroke-linejoin="round"/>
<path d="M1314.6 144.2L1320.0 155.3L1309.2 155.3Z" fill="none" stroke="#A00C12" stroke-width="2.1" stroke-linejoin="round"/>
<path d="M1400.6 170.8L1406.0 181.9L1395.2 181.9Z" fill="none" stroke="#A00C12" stroke-width="2.1" stroke-linejoin="round"/>
<path d="M1416.6 180.3L1422.0 191.4L1411.2 191.4Z" fill="none" stroke="#A00C12" stroke-width="2.1" stroke-linejoin="round"/>
<path d="M1423.7 235.6L1429.1 246.7L1418.3 246.7Z" fill="none" stroke="#A00C12" stroke-width="2.1" stroke-linejoin="round"/>
<path d="M445.1 106.8L450.5 117.9L439.7 117.9Z" fill="none" stroke="#3A62A2" stroke-width="2.1" stroke-linejoin="round"/>
<path d="M598.8 102.7L604.2 113.8L593.4 113.8Z" fill="none" stroke="#3A62A2" stroke-width="2.1" stroke-linejoin="round"/>
<path d="M377.2 116.1L382.6 127.2L371.8 127.2Z" fill="none" stroke="#3A62A2" stroke-width="2.1" stroke-linejoin="round"/>
<path d="M341.8 131.6L347.2 142.7L336.4 142.7Z" fill="none" stroke="#3A62A2" stroke-width="2.1" stroke-linejoin="round"/>
<path d="M320.1 162.1L325.5 173.2L314.7 173.2Z" fill="none" stroke="#3A62A2" stroke-width="2.1" stroke-linejoin="round"/>
<path d="M289.7 220.9L295.1 232.0L284.3 232.0Z" fill="none" stroke="#3A62A2" stroke-width="2.1" stroke-linejoin="round"/>
<path d="M289.7 282.0L295.1 293.1L284.3 293.1Z" fill="none" stroke="#3A62A2" stroke-width="2.1" stroke-linejoin="round"/>
<path d="M305.7 325.1L311.1 336.2L300.3 336.2Z" fill="none" stroke="#3A62A2" stroke-width="2.1" stroke-linejoin="round"/>
<path d="M1302.2 109.0L1307.6 120.1L1296.8 120.1Z" fill="none" stroke="#3A62A2" stroke-width="2.1" stroke-linejoin="round"/>
<path d="M1291.4 118.3L1296.8 129.4L1286.0 129.4Z" fill="none" stroke="#3A62A2" stroke-width="2.1" stroke-linejoin="round"/>
<path d="M1348.5 132.7L1353.9 143.8L1343.1 143.8Z" fill="none" stroke="#3A62A2" stroke-width="2.1" stroke-linejoin="round"/>
<path d="M1371.8 163.2L1377.2 174.3L1366.4 174.3Z" fill="none" stroke="#3A62A2" stroke-width="2.1" stroke-linejoin="round"/>
<path d="M1395.2 222.2L1400.6 233.3L1389.8 233.3Z" fill="none" stroke="#3A62A2" stroke-width="2.1" stroke-linejoin="round"/>
<path d="M1339.2 283.1L1344.6 294.2L1333.8 294.2Z" fill="none" stroke="#3A62A2" stroke-width="2.1" stroke-linejoin="round"/>
<path d="M1330.7 326.7L1336.1 337.8L1325.3 337.8Z" fill="none" stroke="#3A62A2" stroke-width="2.1" stroke-linejoin="round"/>
</svg></body></html>
